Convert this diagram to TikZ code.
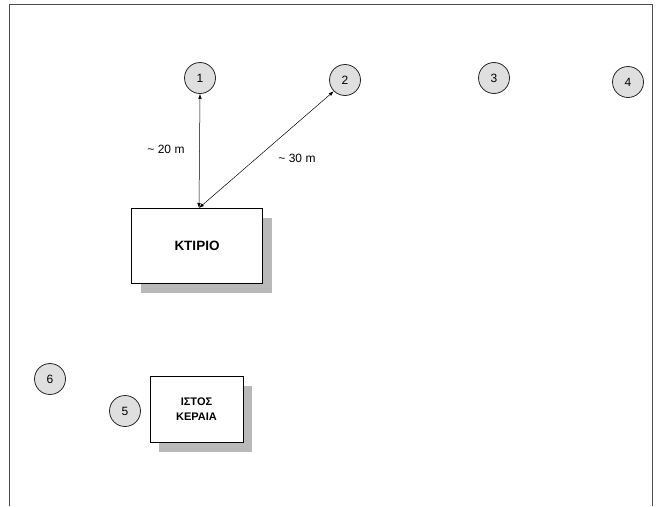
\documentclass[tikz,border=0pt]{standalone}
\usepackage{fontspec}
\setmainfont{Liberation Sans}
\usetikzlibrary{arrows.meta}
\begin{document}
\begin{tikzpicture}[x=1pt,y=-1pt,
  pt/.style={circle,draw=black!85,fill=gray!25,line width=0.8pt,minimum size=31pt,inner sep=0pt,font=\fontsize{12}{13}\selectfont},
  bld/.style={draw=black,fill=white,line width=0.7pt,inner sep=0pt,font=\bfseries\fontsize{13.5}{15}\selectfont,align=center},
  shd/.style={fill=gray!55,draw=none},
  lbl/.style={font=\fontsize{12}{13}\selectfont},
  dim/.style={{Latex[length=5pt,width=3.5pt]}-{Latex[length=5pt,width=3.5pt]},line width=0.5pt}]
\useasboundingbox (0,0) rectangle (663,506);
\draw[line width=0.8pt,draw=black!70] (9.5,506) -- (9.5,4.5) -- (652,4.5) -- (652,506);
% circles
\node[pt] (c1) at (200,78) {1};
\node[pt] (c2) at (345,80) {2};
\node[pt] (c3) at (494,78) {3};
\node[pt] (c4) at (628,82) {4};
\node[pt] (c6) at (50,379) {6};
\node[pt] (c5) at (125,411) {5};
% building
\fill[shd] (141,218) rectangle (272,293);
\node[bld,minimum width=131pt,minimum height=75pt] (b) at (197,246) {KTIPIO};
\coordinate (bt) at (199,208);
% mast
\fill[shd] (159,386) rectangle (252,452);
\node[bld,minimum width=93pt,minimum height=66pt,font=\bfseries\fontsize{11}{15.5}\selectfont] (m) at (196.5,409) {ΙΣΤΟΣ\\ΚΕΡΑΙΑ};
% dimensions
\draw[dim] (bt) -- (c1.south);
\draw[dim] (bt) -- (c2.south west);
\node[lbl] (l1) at (166,149) {\textasciitilde{} 20 m};
\node[lbl] (l2) at (297,158) {\textasciitilde{} 30 m};
\end{tikzpicture}
\end{document}
